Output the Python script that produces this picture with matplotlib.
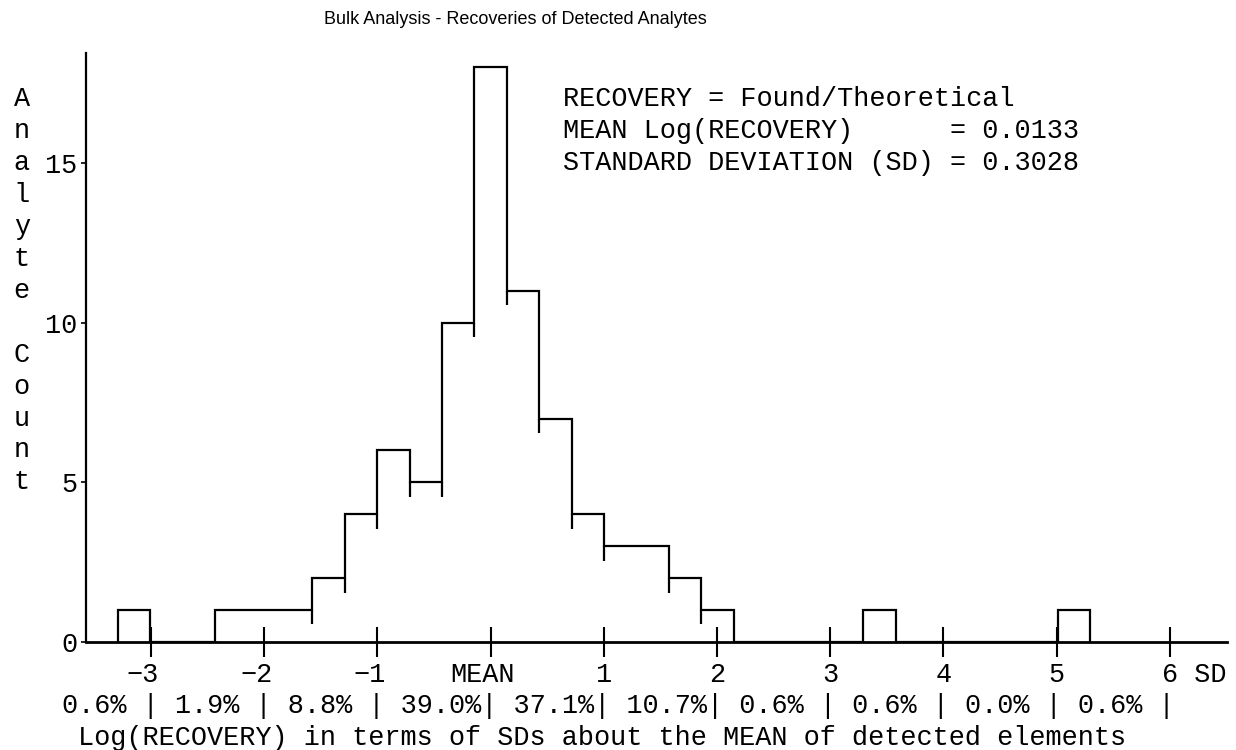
import matplotlib.pyplot as plt
from matplotlib import transforms

# -----------------------------------------
# Data (x is in SDs about the mean)
# -----------------------------------------
bin_edges = [-3.292, -3.006, -2.720, -2.433, -2.147, -1.861, -1.575, -1.289,
             -1.002, -0.716, -0.430, -0.144, 0.142, 0.429, 0.715, 1.001,
             1.287, 1.574, 1.860, 2.146, 2.432, 2.718, 3.005, 3.291,
             3.577, 3.863, 4.149, 4.436, 4.722, 5.008, 5.294]
counts = [1, 0, 0, 1, 1, 1, 2, 4, 6, 5, 10, 18, 11, 7, 4, 3, 3, 2, 1,
          0, 0, 0, 0, 1, 0, 0, 0, 0, 0, 1]

xtick_vals = [-3, -2, -1, 0, 1, 2, 3, 4, 5, 6]
xtick_labels = ["−3", "−2", "−1", "MEAN", "1", "2", "3", "4", "5", "6 SD"]
ytick_vals = [0, 5, 10, 15]
ytick_labels = ["0", "5", "10", "15"]

pct_labels = ["0.6%", "1.9%", "8.8%", "39.0%", "37.1%",
              "10.7%", "0.6%", "0.6%", "0.0%", "0.6%"]

stats_lines = ["RECOVERY = Found/Theoretical",
               "MEAN Log(RECOVERY)      = 0.0133",
               "STANDARD DEVIATION (SD) = 0.3028"]

ylabel_text = "Analyte Count"
xlabel_text = "Log(RECOVERY) in terms of SDs about the MEAN of detected elements"
title_text = "Bulk Analysis - Recoveries of Detected Analytes"

# -----------------------------------------
# Style: the original is printed on a typewriter-like character grid
# (one cell = 1/7 SD wide, one count high)
# -----------------------------------------
W, H = 1236, 750
CHAR_PX = 16.17                    # width of one character cell
CHAR = 1 / 7                       # same width in SD units
FS = CHAR_PX / 0.6 * 72 / 100      # Liberation Mono advance is 0.6 em
MONO = "Liberation Mono"

plt.rcParams["font.family"] = MONO

fig = plt.figure(figsize=(W / 100, H / 100), dpi=100)
ax = fig.add_axes([86 / W, (H - 642) / H, (1227 - 86) / W, (642 - 52.7) / H])

# histogram outline
ax.stairs(counts, bin_edges, baseline=0, color="black", linewidth=1.6)

# little overshoot of the bar edges, like the old plotter
for i in range(1, len(counts)):
    lo = min(counts[i - 1], counts[i])
    if lo > 0 and counts[i - 1] != counts[i]:
        ax.vlines(bin_edges[i], lo - 0.45, lo, color="black", linewidth=1.6)

ax.set_xlim(-3.575, 6.505)
ax.set_ylim(0, 18.46)

for side in ["top", "right"]:
    ax.spines[side].set_visible(False)
ax.spines["left"].set_linewidth(1.6)
ax.spines["bottom"].set_linewidth(2.0)

ax.set_yticks(ytick_vals, ytick_labels)
ax.tick_params(axis="y", direction="out", length=3.6, width=1.2, pad=2.5,
               labelsize=FS)

ax.set_xticks(xtick_vals, xtick_labels)
ax.tick_params(axis="x", direction="inout", length=22, width=1.5, pad=3.5,
               labelsize=FS)

# put the digit (or the A of MEAN, or the 6 of "6 SD") right under the tick
char_in = CHAR_PX / 100
for lab in ax.get_xticklabels():
    t = lab.get_text()
    if t == "MEAN":
        lab.set_horizontalalignment("right")
        dx = 1.5 * char_in
    elif t.endswith("SD"):
        lab.set_horizontalalignment("left")
        dx = -0.5 * char_in
    else:
        lab.set_horizontalalignment("right")
        dx = 0.5 * char_in
    lab.set_transform(lab.get_transform() +
                      transforms.ScaledTranslation(dx, 0, fig.dpi_scale_trans))

# percentage row and axis label under the ticks
pct_row = " ".join(p.ljust(5) + "|" for p in pct_labels)
under = transforms.blended_transform_factory(ax.transData, fig.transFigure)
ax.text(-3 - 5.5 * CHAR, 1 - 706 / H, pct_row, transform=under,
        ha="left", va="center", fontsize=FS)
ax.text(-3 - 4.5 * CHAR, 1 - 738 / H, xlabel_text, transform=under,
        ha="left", va="center", fontsize=FS)

# vertical y label, one letter per text row
letters = [c for c in ylabel_text]
for i, c in enumerate(letters):
    if c != " ":
        ax.text(-3 - 8 * CHAR, 17 - i, c, ha="center", va="center",
                fontsize=FS, clip_on=False)

# statistics block, on the same text rows as the y label
for i, line in enumerate(stats_lines):
    ax.text(4.5 * CHAR, 17 - i, line, ha="left", va="center", fontsize=FS)

fig.text(515 / W, 1 - 20 / H, title_text, ha="center", va="center",
         fontsize=13, family="Liberation Sans")

fig.savefig("out.png", dpi=100)
